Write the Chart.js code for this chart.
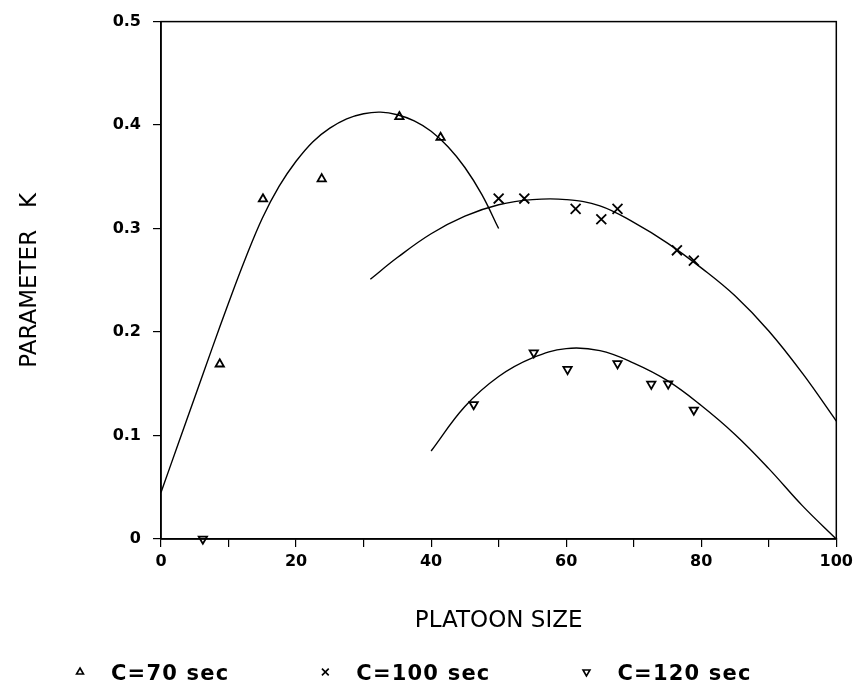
<!DOCTYPE html>
<html>
<head>
<meta charset="utf-8">
<script src="https://cdn.jsdelivr.net/npm/chart.js@4.4.1/dist/chart.umd.min.js"></script>
<style>
  html, body { margin: 0; padding: 0; background: #ffffff; }
  #wrap { width: 858px; height: 687px; }
</style>
</head>
<body>
<div id="wrap"><canvas id="c" width="858" height="687"></canvas></div>
<script>
// ---------------- data ----------------
// measured points
const c70X = [8.7, 15.1, 23.8, 35.3, 41.4];
const c70K = [0.169, 0.3285, 0.348, 0.408, 0.388];

const c100X = [50.0, 53.8, 61.4, 65.2, 67.6, 76.4, 78.9];
const c100K = [0.329, 0.329, 0.319, 0.309, 0.319, 0.279, 0.269];

const c120X = [6.2, 46.3, 55.2, 60.2, 67.6, 72.6, 75.1, 78.9];
const c120K = [0.0, 0.130, 0.180, 0.164, 0.1695, 0.1497, 0.150, 0.1247];

// fitted curves (traced)
const c70CurveX = [0, 2.5, 5, 7.5, 10, 12.5, 15, 17.5, 20, 22.5, 25, 27.5, 30, 32.5, 35, 37.5, 40, 42.5, 45, 47.5, 50];
const c70CurveK = [0.045, 0.091, 0.137, 0.183, 0.228, 0.271, 0.310, 0.341, 0.365, 0.384, 0.397, 0.406, 0.411, 0.4125, 0.410, 0.404, 0.394, 0.379, 0.359, 0.333, 0.300];

const c100CurveX = [31, 35, 40, 45, 50, 55, 60, 65, 70, 75, 80, 85, 90, 95, 100];
const c100CurveK = [0.251, 0.272, 0.295, 0.312, 0.323, 0.328, 0.328, 0.322, 0.306, 0.286, 0.262, 0.235, 0.201, 0.160, 0.114];

const c120CurveX = [40, 45, 50, 55, 60, 65, 70, 75, 80, 85, 90, 95, 100];
const c120CurveK = [0.085, 0.128, 0.157, 0.175, 0.184, 0.182, 0.170, 0.153, 0.129, 0.101, 0.068, 0.032, 0.000];

// labels
const seriesLabels = ['C=70 sec', 'C=100 sec', 'C=120 sec'];
const xTitle = 'PLATOON SIZE';
const yTitle = 'PARAMETER   K';
const xTickValues = [0, 20, 40, 60, 80, 100];

// ---------------- helpers ----------------
const pts = (xs, ys) => xs.map((x, i) => ({ x: x, y: ys[i] }));

Chart.defaults.color = '#000';
Chart.defaults.font.family = '"DejaVu Sans", sans-serif';

function drawSymbol(ctx, style, rotation, x, y, r) {
  ctx.beginPath();
  if (style === 'crossRot') {
    const d = r * Math.SQRT1_2;
    ctx.moveTo(x - d, y - d); ctx.lineTo(x + d, y + d);
    ctx.moveTo(x + d, y - d); ctx.lineTo(x - d, y + d);
  } else {
    const rot = rotation * Math.PI / 180;
    for (let k = 0; k < 3; k++) {
      const a = rot + k * 2 * Math.PI / 3;
      const px = x + Math.sin(a) * r, py = y - Math.cos(a) * r;
      if (k === 0) ctx.moveTo(px, py); else ctx.lineTo(px, py);
    }
    ctx.closePath();
  }
  ctx.stroke();
}

const framePlugin = {
  id: 'frame',
  afterDraw(chart) {
    const { ctx, chartArea: a } = chart;
    ctx.save();
    ctx.strokeStyle = '#000';
    ctx.lineWidth = 1.5;
    ctx.strokeRect(a.left, a.top, a.right - a.left, a.bottom - a.top);
    ctx.restore();
  }
};

const legendPlugin = {
  id: 'bottomLegend',
  afterDraw(chart) {
    const ctx = chart.ctx;
    ctx.save();
    ctx.font = 'bold 21px "DejaVu Sans"';
    if ('letterSpacing' in ctx) ctx.letterSpacing = '1.2px';
    ctx.textBaseline = 'alphabetic';
    ctx.textAlign = 'left';
    ctx.fillStyle = '#000';
    ctx.strokeStyle = '#000';
    ctx.lineWidth = 1.6;
    const baseY = 680;
    let x = 80;
    chart.data.datasets.filter(d => d.inLegend).forEach(d => {
      const r = d.pointStyle === 'crossRot' ? 4.8 : 4;
      drawSymbol(ctx, d.pointStyle, d.pointRotation || 0, x, baseY - 8, r);
      ctx.fillText(d.label, x + 31, baseY);
      x = x + 31 + ctx.measureText(d.label).width + 96;
    });
    ctx.restore();
  }
};

const markerCommon = {
  type: 'scatter',
  showLine: false,
  borderColor: '#000',
  backgroundColor: 'rgba(0,0,0,0)',
  pointBorderWidth: 1.8,
  clip: false,
  inLegend: true
};
const curveCommon = {
  type: 'line',
  borderColor: '#000',
  borderWidth: 1.4,
  pointRadius: 0,
  pointHoverRadius: 0,
  fill: false,
  tension: 0.4,
  inLegend: false
};

new Chart(document.getElementById('c'), {
  type: 'scatter',
  data: {
    datasets: [
      Object.assign({}, markerCommon, { label: seriesLabels[0], data: pts(c70X, c70K), pointStyle: 'triangle', pointRadius: 4.8 }),
      Object.assign({}, markerCommon, { label: seriesLabels[1], data: pts(c100X, c100K), pointStyle: 'crossRot', pointRadius: 7 }),
      Object.assign({}, markerCommon, { label: seriesLabels[2], data: pts(c120X, c120K), pointStyle: 'triangle', pointRotation: 180, pointRadius: 4.8 }),
      Object.assign({}, curveCommon, { label: 'fit 70', data: pts(c70CurveX, c70CurveK) }),
      Object.assign({}, curveCommon, { label: 'fit 100', data: pts(c100CurveX, c100CurveK) }),
      Object.assign({}, curveCommon, { label: 'fit 120', data: pts(c120CurveX, c120CurveK) })
    ]
  },
  options: {
    responsive: false,
    animation: false,
    devicePixelRatio: 1,
    layout: { padding: { left: 0, right: 19, top: 19, bottom: 0 } },
    plugins: {
      legend: { display: false },
      tooltip: { enabled: false }
    },
    scales: {
      x: {
        type: 'linear',
        position: 'bottom',
        min: 0, max: 100,
        border: { display: true, color: '#000', width: 1.5 },
        grid: { display: true, drawOnChartArea: false, drawTicks: true, tickLength: 8, color: '#000', lineWidth: 1.2 },
        ticks: {
          stepSize: 10,
          padding: 5,
          maxRotation: 0,
          autoSkip: false,
          font: { family: '"DejaVu Sans"', weight: 'bold', size: 16 },
          callback: (v) => xTickValues.includes(v) ? String(v) : ''
        },
        title: {
          display: true,
          text: xTitle,
          font: { family: '"DejaVu Sans"', size: 23, weight: 'normal' },
          padding: { top: 0, bottom: 52 }
        },
        afterFit: (s) => { s.height = 148; }
      },
      y: {
        type: 'linear',
        position: 'left',
        min: 0, max: 0.5,
        border: { display: true, color: '#000', width: 1.5 },
        grid: { display: true, drawOnChartArea: false, drawTicks: true, tickLength: 8, color: '#000', lineWidth: 1.2 },
        ticks: {
          stepSize: 0.1,
          padding: 12,
          font: { family: '"DejaVu Sans"', weight: 'bold', size: 16 },
          callback: (v) => (Math.abs(v) < 1e-9 ? '0' : v.toFixed(1))
        },
        title: {
          display: true,
          text: yTitle,
          font: { family: '"DejaVu Sans"', size: 23, weight: 'normal' },
          padding: { top: 16, bottom: 0 }
        },
        afterFit: (s) => { s.width = 161; }
      }
    }
  },
  plugins: [framePlugin, legendPlugin]
});
</script>
</body>
</html>
